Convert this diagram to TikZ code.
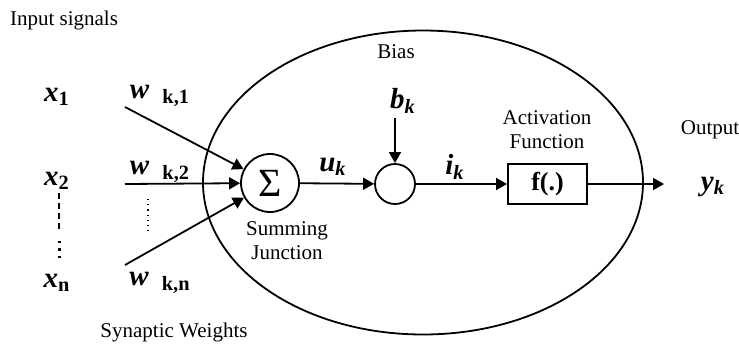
\documentclass[tikz,border=0pt]{standalone}
\usepackage{fontspec}
\setmainfont{Liberation Serif}
\usetikzlibrary{arrows.meta,positioning,shapes.geometric}

\newcommand{\sig}[2]{\textbf{\textit{#1}}\textsubscript{\textbf{#2}}}
\newcommand{\wgt}[1]{\textbf{\textit{w}}\hspace{0.45em}\textsubscript{\textbf{#1}}}
\newcommand{\itsub}[2]{\textbf{\textit{#1}}\textsubscript{\textbf{\textit{#2}}}}

\begin{document}
\begin{tikzpicture}[
    x=0.5pt, y=-0.5pt,
    lbl/.style={inner sep=0pt, align=center, font=\fontsize{10.5}{12}\selectfont},
    var/.style={inner sep=0pt, font=\fontsize{14.5}{16}\selectfont},
    junction/.style={draw, circle, line width=0.9pt, inner sep=0pt},
    fbox/.style={draw, line width=0.9pt, minimum width=39.5pt, minimum height=20pt, inner sep=0pt, font=\fontsize{13}{15}\selectfont\bfseries},
    arr/.style={-{Triangle[length=5.5pt, width=6pt]}, line width=0.9pt}
]
\useasboundingbox (0,0) rectangle (739,343);

% cell body
\node[draw, ellipse, line width=0.9pt, minimum width=220pt, minimum height=152pt, inner sep=0pt] (cell) at (423,182.5) {};

% inputs and weights
\node[lbl] (insig) at (64,20) {Input signals};
\node[var] (x1) at (57,97) {\sig{x}{1}};
\node[var] (x2) at (57,181) {\sig{x}{2}};
\node[var] (xn) at (57,283) {\sig{x}{n}};
\node[var] (w1) at (160,96) {\wgt{k,1}};
\node[var] (w2) at (160,172) {\wgt{k,2}};
\node[var] (wn) at (160,283) {\wgt{k,n}};
\node[lbl] (syn) at (174,332) {Synaptic Weights};

\coordinate (s1) at (125,107);
\coordinate (s2) at (125,184);
\coordinate (s3) at (125,265);

% junctions and function
\node[junction, minimum size=29pt, font=\fontsize{20}{22}\selectfont] (sum) at (270,183) {Σ};
\node[lbl] (sumlbl) at (287,241) {Summing\\Junction};
\node[junction, minimum size=20pt] (add) at (395,184) {};
\node[lbl] (bias) at (396,52) {Bias};
\node[var] (bk) at (403,101) {\itsub{b}{k}};
\coordinate (btop) at (395,118);
\node[var] (uk) at (333,167) {\itsub{u}{k}};
\node[var] (ik) at (455,167) {\itsub{i}{k}};
\node[fbox] (f) at (547.5,184) {f(.)};
\node[lbl] (actlbl) at (547,130) {Activation\\Function};
\node[lbl] (outlbl) at (710,130) {Output};
\node[var] (yk) at (713,187) {\itsub{y}{k}};
\coordinate (yend) at (664,184);

\draw[arr] (s1) -- (sum);
\draw[arr] (s2) -- (sum);
\draw[arr] (s3) -- (sum);
\draw[arr] (sum) -- (add);
\draw[arr] (btop) -- (add);
\draw[arr] (add) -- (f);
\draw[arr] (f) -- (yend);

% omitted inputs
\draw[line width=0.6pt, dash pattern=on 3pt off 2pt] (59,193) -- (59,229);
\foreach \y in {242,249.5,257}
    \fill (57.7,\y-1.4) rectangle ++(2.8,2.8);
\draw[line width=0.6pt, dotted] (148,199) -- (148,231);
\end{tikzpicture}
\end{document}
